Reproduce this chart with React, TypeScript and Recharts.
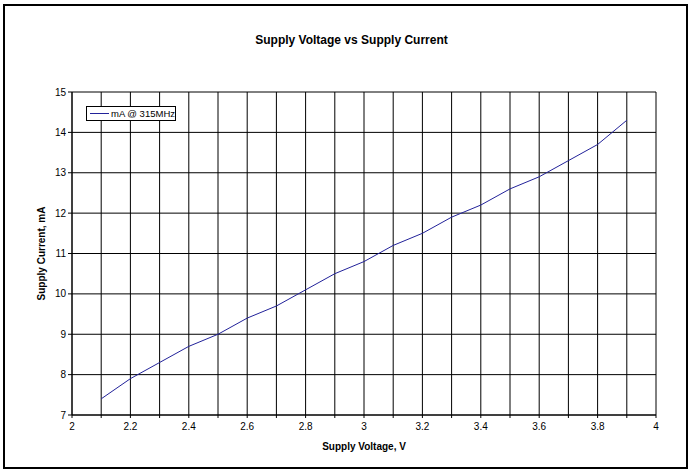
import React from 'react';
import { LineChart, Line, XAxis, YAxis, CartesianGrid, Legend } from 'recharts';

const voltages = [2.1, 2.2, 2.3, 2.4, 2.5, 2.6, 2.7, 2.8, 2.9, 3.0, 3.1, 3.2, 3.3, 3.4, 3.5, 3.6, 3.7, 3.8, 3.9];
const currents = [7.4, 7.9, 8.3, 8.7, 9.0, 9.4, 9.7, 10.1, 10.5, 10.8, 11.2, 11.5, 11.9, 12.2, 12.6, 12.9, 13.3, 13.7, 14.3];
const xTicks = [2, 2.1, 2.2, 2.3, 2.4, 2.5, 2.6, 2.7, 2.8, 2.9, 3, 3.1, 3.2, 3.3, 3.4, 3.5, 3.6, 3.7, 3.8, 3.9, 4];
const xLabelTicks = [2, 2.2, 2.4, 2.6, 2.8, 3, 3.2, 3.4, 3.6, 3.8, 4];
const yTicks = [7, 8, 9, 10, 11, 12, 13, 14, 15];
const seriesName = 'mA @ 315MHz';

const data = voltages.map((v, i) => ({ v, mA: currents[i] }));

const FONT = 'Liberation Sans, Arial, sans-serif';
const LINE_COLOR = '#22229a';

const fmtX = (t: number) => {
  const isLabel = xLabelTicks.some((l) => Math.abs(l - t) < 1e-6);
  return isLabel ? String(Math.round(t * 10) / 10) : '';
};

const LegendBox = () => (
  <div
    style={{
      border: '1px solid #000',
      background: '#fff',
      width: 88,
      height: 13,
      display: 'flex',
      alignItems: 'center',
      fontFamily: FONT,
      fontSize: 9.5,
      color: '#000',
      whiteSpace: 'nowrap',
      boxSizing: 'content-box',
    }}
  >
    <span style={{ display: 'inline-block', width: 19, height: 0, borderTop: `1px solid ${LINE_COLOR}`, marginLeft: 3, marginRight: 2 }} />
    <span>{seriesName}</span>
  </div>
);

export default function App() {
  return (
    <div style={{ position: 'absolute', left: 0, top: 0, width: 689, height: 470, background: '#fff' }}>
      <div
        style={{
          position: 'absolute',
          left: 3,
          top: 4,
          width: 681,
          height: 461,
          border: '2px solid #000',
          boxSizing: 'content-box',
        }}
      />
      <div
        style={{
          position: 'absolute',
          left: 0,
          top: 33,
          width: 703,
          textAlign: 'center',
          fontFamily: FONT,
          fontWeight: 'bold',
          fontSize: 12,
          color: '#000',
        }}
      >
        Supply Voltage vs Supply Current
      </div>
      <div style={{ position: 'absolute', left: 0, top: 0 }}>
        <LineChart width={689} height={470} data={data} margin={{ top: 92, right: 33, bottom: 30, left: 0 }}>
          <CartesianGrid stroke="#000" strokeWidth={1} fill="none" />
          <XAxis
            dataKey="v"
            type="number"
            domain={[2, 4]}
            ticks={xTicks}
            interval={0}
            tickFormatter={fmtX}
            tickSize={3}
            tick={{ fill: '#000', fontSize: 10, fontFamily: FONT, dy: 3 }}
            stroke="#000"
            height={25}
            label={{
              value: 'Supply Voltage, V',
              position: 'insideBottom',
              offset: -10,
              style: { fontFamily: FONT, fontWeight: 'bold', fontSize: 10, fill: '#000' },
            }}
          />
          <YAxis
            type="number"
            domain={[7, 15]}
            ticks={yTicks}
            interval={0}
            tickSize={4}
            tick={{ fill: '#000', fontSize: 10, fontFamily: FONT }}
            stroke="#000"
            width={72}
            label={{
              value: 'Supply Current, mA',
              angle: -90,
              position: 'insideLeft',
              offset: 41,
              style: { fontFamily: FONT, fontWeight: 'bold', fontSize: 10, fill: '#000', textAnchor: 'middle' },
            }}
          />
          <Legend
            layout="horizontal"
            align="center"
            verticalAlign="middle"
            content={() => <LegendBox />}
            wrapperStyle={{ position: 'absolute', left: 86, top: 106, width: 'auto', height: 'auto' }}
          />
          <Line
            type="linear"
            dataKey="mA"
            name={seriesName}
            stroke={LINE_COLOR}
            strokeWidth={1}
            dot={false}
            isAnimationActive={false}
          />
        </LineChart>
      </div>
    </div>
  );
}
